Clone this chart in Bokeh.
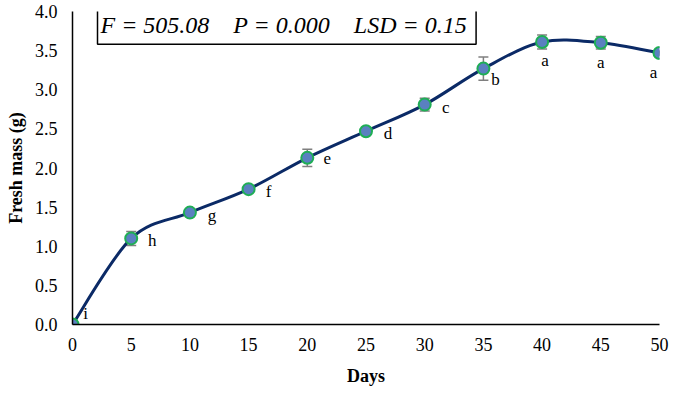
import numpy as np
from bokeh.plotting import figure
from bokeh.models import (ColumnDataSource, Whisker, TeeHead, Label, Range1d,
                          FixedTicker, CustomJSTickFormatter)
from bokeh.core.properties import value
from bokeh.embed import file_html
from bokeh.resources import INLINE

days = [0, 5, 10, 15, 20, 25, 30, 35, 40, 45, 50]
mass = [0.0, 1.10, 1.43, 1.73, 2.13, 2.47, 2.81, 3.27, 3.61, 3.60, 3.47]
err = [0.0, 0.09, 0.03, 0.03, 0.11, 0.03, 0.08, 0.15, 0.09, 0.08, 0.03]
letters = ["i", "h", "g", "f", "e", "d", "c", "b", "a", "a", "a"]
x_ticks = [0, 5, 10, 15, 20, 25, 30, 35, 40, 45, 50]
y_ticks = [0.0, 0.5, 1.0, 1.5, 2.0, 2.5, 3.0, 3.5, 4.0]
SP = "\u00a0" * 4
stats_text = "F = 505.08" + SP + "P = 0.000" + SP + "LSD = 0.15"

# label placement offsets (px) - layout only
lab_dx = [13, 21, 22, 20, 20, 22, 21, 12, 3, 0, -6]
lab_dy = [-11, 2, 3, 2, 1, 2, 3, 11, 18, 20, 20]

SERIF = "Liberation Serif"

p = figure(width=669, height=392, output_backend="svg", toolbar_location=None,
           x_range=Range1d(0, 50), y_range=Range1d(0, 4.0),
           min_border_left=72, min_border_right=10, min_border_top=11, min_border_bottom=68)
p.outline_line_color = None
p.grid.grid_line_color = None
p.background_fill_color = "white"

for ax in (p.xaxis[0], p.yaxis[0]):
    ax.major_tick_line_color = None
    ax.minor_tick_line_color = None
    ax.major_tick_out = 0
    ax.major_tick_in = 0
    ax.minor_tick_out = 0
    ax.axis_line_color = "black"
    ax.axis_line_width = 1.5
    ax.major_label_text_font = SERIF
    ax.major_label_text_font_size = "18px"
    ax.major_label_text_color = "black"
    ax.axis_label_text_font = SERIF
    ax.axis_label_text_font_style = "bold"
    ax.axis_label_text_font_size = "18px"
    ax.axis_label_text_color = "black"
p.xaxis.ticker = FixedTicker(ticks=x_ticks)
p.yaxis.ticker = FixedTicker(ticks=y_ticks)
p.yaxis.formatter = CustomJSTickFormatter(code="return tick.toFixed(1);")
p.xaxis.axis_label = "Days"
p.yaxis.axis_label = "Fresh mass (g)"
p.xaxis.major_label_standoff = 13
p.xaxis.axis_label_standoff = 12
p.yaxis.major_label_standoff = 15
p.yaxis.axis_label_standoff = 6

# smooth curve (Catmull-Rom style Bezier through the data)
x = np.array(days, dtype=float)
y = np.array(mass, dtype=float)
xp = np.concatenate([[x[0]], x, [x[-1]]])
yp = np.concatenate([[y[0]], y, [y[-1]]])
n = len(x)
cx0 = x[:-1] + (xp[2:n+1] - xp[0:n-1]) / 6.0
cy0 = y[:-1] + (yp[2:n+1] - yp[0:n-1]) / 6.0
cx1 = x[1:] - (xp[3:n+2] - xp[1:n]) / 6.0
cy1 = y[1:] - (yp[3:n+2] - yp[1:n]) / 6.0
p.bezier(x0=x[:-1], y0=y[:-1], x1=x[1:], y1=y[1:], cx0=cx0, cy0=cy0, cx1=cx1, cy1=cy1,
         line_color="#0b2a66", line_width=3)

src = ColumnDataSource(dict(x=days, y=mass,
                            lo=[m - e for m, e in zip(mass, err)],
                            hi=[m + e for m, e in zip(mass, err)],
                            lab=letters, dx=lab_dx, dy=lab_dy))
wh = Whisker(source=src, base="x", upper="hi", lower="lo",
             line_color="#7f7f7f", line_width=1.5,
             upper_head=TeeHead(size=10, line_color="#7f7f7f", line_width=1.5),
             lower_head=TeeHead(size=10, line_color="#7f7f7f", line_width=1.5))
p.add_layout(wh)

p.scatter("x", "y", source=src, size=12, fill_color="#5a80c0",
          line_color="#1fae55", line_width=2)

p.text("x", "y", text="lab", source=src, x_offset="dx", y_offset="dy",
       text_font=value(SERIF), text_font_size="17px", text_color="black",
       text_align="center", text_baseline="middle")

lbl = Label(x=2.13, y=4.03, x_units="data", y_units="data", text=stats_text,
            anchor="top_left", text_font=SERIF, text_font_style="italic",
            text_font_size="24px", text_color="black",
            border_line_color="black", border_line_width=1.5,
            background_fill_color="white", padding=(3, 9, 3, 6))
p.add_layout(lbl)

open("out.html", "w").write(file_html(p, INLINE))
